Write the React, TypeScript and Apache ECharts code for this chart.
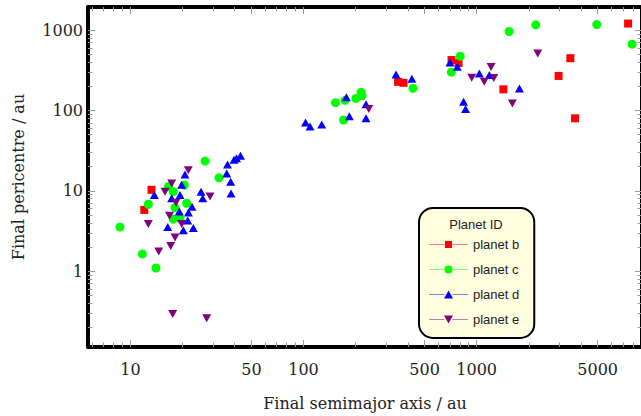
import React, { useEffect, useRef } from 'react';
import * as echarts from 'echarts';

// [final semimajor axis (au), final pericentre (au)]
const planetB: number[][] = [
  [13.24, 10.3], [12.03, 5.79], [351.5, 228], [378, 221.6], [716, 426], [786, 391],
  [1427, 184], [2973, 270], [3477, 449], [3701, 80.1], [7494, 1213],
];
const planetC: number[][] = [
  [8.71, 3.54], [11.72, 1.64], [14.05, 1.095], [12.69, 6.81], [16.6, 11.36], [17.69, 9.77],
  [20.48, 11.8], [18.1, 6.2], [21.14, 7.01], [17.69, 4.45], [19.34, 4.54], [26.98, 23.5],
  [32.5, 14.55], [153, 125.6], [170.3, 76.3], [173.6, 134], [200.5, 141.5], [214.8, 169.2],
  [217.8, 153], [429, 189.6], [714, 301], [804, 475], [1539, 966], [2195, 1169],
  [4941, 1179], [7904, 671],
];
const planetD: number[][] = [
  [13.74, 8.87], [20.67, 15.98], [19.78, 11.93], [17.32, 8.08], [19.34, 8.87], [19.16, 5.54],
  [21.65, 5.38], [22.69, 6.35], [21.43, 4.29], [16.43, 3.54], [20.21, 3.23], [23.09, 3.44],
  [25.58, 9.77], [26.17, 8.08], [36.4, 21.24], [36.0, 16.44], [37.96, 12.99], [38.12, 9.24],
  [39.67, 24.49], [41.0, 25.55], [43.25, 27.43],
  [102.7, 71.1], [109.0, 63.5], [127.4, 67.2], [176.7, 146.8], [183.9, 84.8], [229.6, 120.3],
  [229.6, 80.1], [342.3, 282.2], [422.5, 248.5], [702, 397], [773, 351], [840, 128.4],
  [863, 104.4], [1036, 288.7], [1184, 278], [1765, 188],
];
const planetE: number[][] = [
  [21.6, 18.06], [17.32, 12.38], [15.85, 9.77], [28.84, 8.48], [18.34, 7.11], [16.82, 4.91],
  [12.69, 3.86], [19.78, 3.86], [18.1, 2.63], [17.09, 2.06], [14.57, 1.756], [17.55, 0.293],
  [27.6, 0.259], [238, 104.4], [937, 257], [1106, 228], [1211, 349], [1256, 254],
  [1608, 122.7], [2254, 513],
];

const seriesNames = ['planet b', 'planet c', 'planet d', 'planet e'];
const xMajorTicks = [10, 50, 100, 500, 1000, 5000];
const xMinorTicks = [6, 7, 8, 9, 20, 30, 40, 60, 70, 80, 90, 200, 300, 400, 600, 700, 800, 900,
  2000, 3000, 4000, 6000, 7000, 8000, 9000];
const yMajorTicks = [1, 10, 100, 1000];
const yMinorTicks = [0.2, 0.3, 0.4, 0.5, 0.6, 0.7, 0.8, 0.9, 2, 3, 4, 5, 6, 7, 8, 9,
  20, 30, 40, 50, 60, 70, 80, 90, 200, 300, 400, 500, 600, 700, 800, 900];

const X_MIN = 5.69;
const X_MAX = 9016;
const Y_MIN = 0.1136;
const Y_MAX = 1950;

const SERIF = 'DejaVu Serif';
const SANS = 'Liberation Sans';

const legendIcons = [
  'path://M0,0L0,9Z M0,4.2h15.5v0.6h-15.5Z M23.5,4.2h15.5v0.6h-15.5Z M16,1h7v7h-7Z',
  'path://M0,0L0,9Z M0,4.2h15.5v0.6h-15.5Z M23.5,4.2h15.5v0.6h-15.5Z M15.5,4.5a4,4 0 1,0 8,0a4,4 0 1,0 -8,0Z',
  'path://M0,0L0,9Z M0,4.2h15.5v0.6h-15.5Z M23.5,4.2h15.5v0.6h-15.5Z M19.5,0.5L24,8.5L15,8.5Z',
  'path://M0,0L0,9Z M0,4.2h15.5v0.6h-15.5Z M23.5,4.2h15.5v0.6h-15.5Z M15,0.5L24,0.5L19.5,8.5Z',
];

function makeX(position: 'top' | 'bottom', major: boolean): any {
  return {
    type: 'log',
    logBase: 10,
    min: X_MIN,
    max: X_MAX,
    position,
    name: position === 'bottom' && major ? 'Final semimajor axis / au' : '',
    nameLocation: 'middle',
    nameGap: 48,
    nameTextStyle: { fontFamily: SERIF, fontSize: 16, color: '#222' },
    axisLine: { show: major, lineStyle: { color: '#000', width: 4 } },
    axisTick: {
      show: true,
      inside: true,
      length: major ? 7 : 4.5,
      customValues: major ? xMajorTicks : xMinorTicks,
      lineStyle: { color: '#999', width: 1 },
    },
    axisLabel: {
      show: position === 'bottom' && major,
      customValues: xMajorTicks,
      margin: 14,
      fontFamily: SERIF,
      fontSize: 16,
      color: '#222',
      formatter: (v: number) => String(Math.round(v)),
    },
    splitLine: { show: false },
    minorTick: { show: false },
  };
}

function makeY(position: 'left' | 'right', major: boolean): any {
  return {
    type: 'log',
    logBase: 10,
    min: Y_MIN,
    max: Y_MAX,
    position,
    name: position === 'left' && major ? 'Final pericentre / au' : '',
    nameLocation: 'middle',
    nameGap: 62,
    nameTextStyle: { fontFamily: SERIF, fontSize: 16, color: '#222' },
    axisLine: { show: major, lineStyle: { color: '#000', width: 4 } },
    axisTick: {
      show: true,
      inside: true,
      length: major ? 7 : 4.5,
      customValues: major ? yMajorTicks : yMinorTicks,
      lineStyle: { color: '#999', width: 1 },
    },
    axisLabel: {
      show: position === 'left' && major,
      customValues: yMajorTicks,
      margin: 5,
      fontFamily: SERIF,
      fontSize: 16,
      color: '#222',
      formatter: (v: number) => String(Math.round(v)),
    },
    splitLine: { show: false },
  };
}

export default function App() {
  const ref = useRef<HTMLDivElement>(null);
  useEffect(() => {
    if (!ref.current) return;
    const chart = echarts.init(ref.current, undefined, { renderer: 'svg' });
    const seriesData = [planetB, planetC, planetD, planetE];
    const colors = ['#ff0000', '#00ff00', '#0000ff', '#800080'];
    const symbols = ['rect', 'circle', 'triangle', 'triangle'];
    const sizes: any[] = [8, 9, [9, 8], [9, 8]];
    chart.setOption({
      animation: false,
      grid: { left: 88, right: 38, top: 7, bottom: 66, containLabel: false },
      xAxis: [makeX('bottom', true), makeX('bottom', false), makeX('top', true), makeX('top', false)],
      yAxis: [makeY('left', true), makeY('left', false), makeY('right', true), makeY('right', false)],
      legend: {
        orient: 'vertical',
        left: 419,
        top: 208,
        padding: [30, 15, 12, 10],
        itemWidth: 39,
        itemHeight: 9,
        itemGap: 12,
        backgroundColor: '#ffffe0',
        borderColor: '#000',
        borderWidth: 2,
        borderRadius: 14,
        selectedMode: false,
        textStyle: { fontFamily: SANS, fontSize: 13, color: '#222' },
        data: seriesNames.map((n, i) => ({ name: n, icon: legendIcons[i] })),
      },
      graphic: [
        {
          type: 'text',
          x: 476,
          y: 224,
          z: 100,
          style: {
            text: 'Planet ID',
            fontFamily: SANS,
            fontSize: 13,
            fill: '#222',
            align: 'center',
            verticalAlign: 'middle',
          },
        },
      ],
      series: seriesNames.map((n, i) => ({
        name: n,
        type: 'scatter',
        xAxisIndex: 0,
        yAxisIndex: 0,
        data: seriesData[i],
        symbol: symbols[i],
        symbolRotate: i === 3 ? 180 : 0,
        symbolSize: sizes[i],
        itemStyle: { color: colors[i], opacity: 1 },
        emphasis: { disabled: true },
      })),
    });
    return () => chart.dispose();
  }, []);
  return (
    <div style={{ position: 'absolute', left: 0, top: 0, width: 641, height: 416, overflow: 'hidden', background: '#fff' }}>
      <div ref={ref} style={{ width: 680, height: 416 }} />
    </div>
  );
}
